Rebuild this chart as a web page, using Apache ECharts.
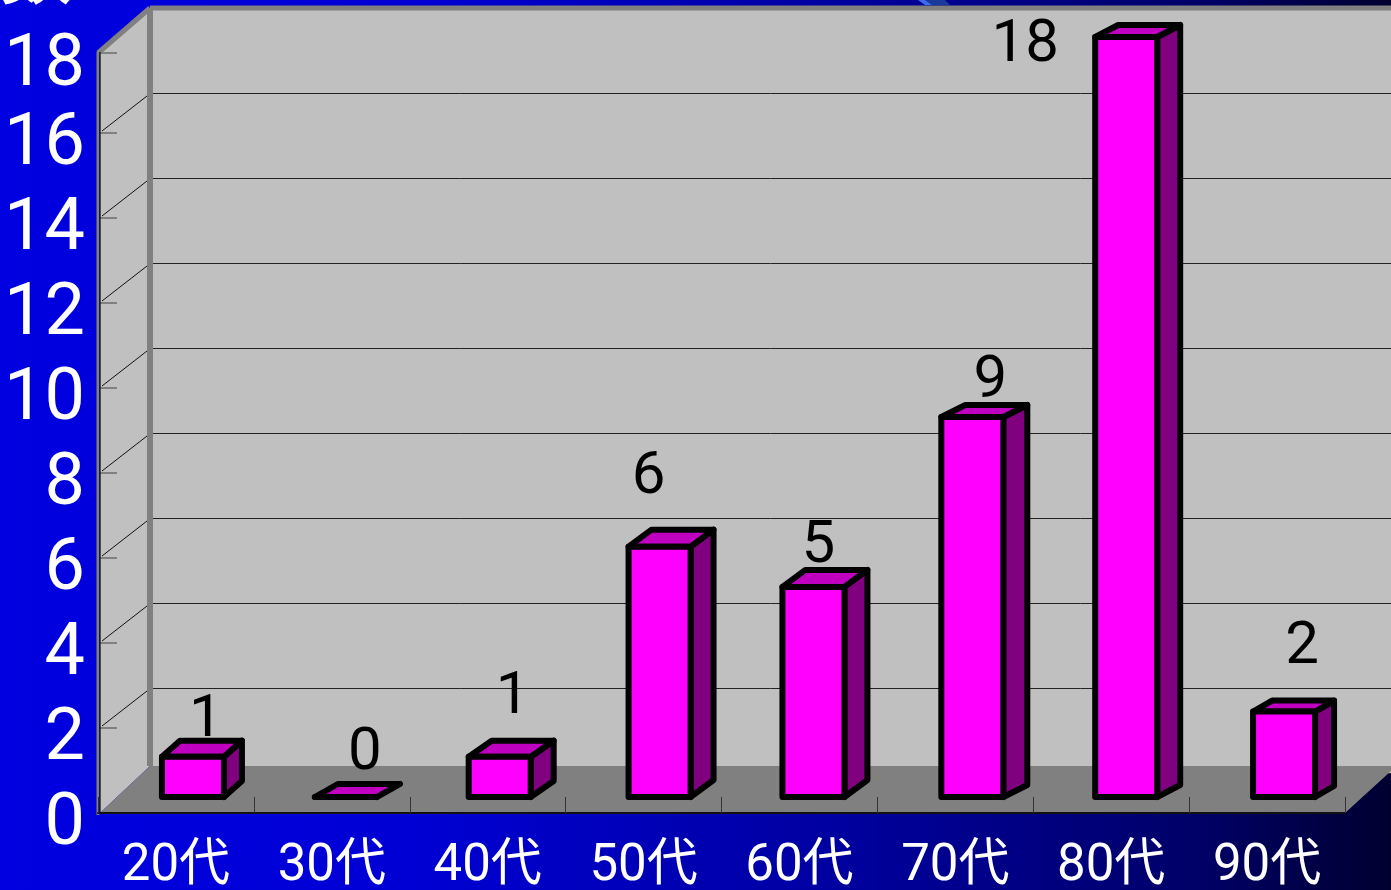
<!DOCTYPE html>
<html>
<head>
<meta charset="utf-8">
<style>html,body{margin:0;padding:0;background:#000080}#c{width:1391px;height:890px}</style>
<script src="https://cdn.jsdelivr.net/npm/echarts@6/dist/echarts.min.js"></script>
</head>
<body>
<div id="c"></div>
<script>
const categories = ['20代','30代','40代','50代','60代','70代','80代','90代'];
const values = [1,0,1,6,5,9,18,2];
const axisTicks = [0,2,4,6,8,10,12,14,16,18];
const axisName = '数';

// layout of the hand-placed 3D look
const barNudge = [17,14,12,16,14,17,15,17];
const barNudgeY = [2,0,2,3,1,0,0,-1];
const depthX = [18,23,23,23,23,24,23,19];
const depthY = [16,13,16,17,17,12,12,11];
const labelNudge = [[13,-36],[19,-43],[13,-59],[-11,-69],[5,-40],[18,-35],[-101,9],[18,-64]];
const HALF = 31;
const SANS = 'Roboto,"Liberation Sans","Noto Sans CJK JP",sans-serif';
const GRAY = '#808080';

const chart = echarts.init(document.getElementById('c'), null, {renderer:'canvas', width:1391, height:890});

function renderShell(params, api){
  const cs = params.coordSys;
  const L = cs.x + 2, T = cs.y, R = cs.x + cs.width, B = cs.y + cs.height;
  const BX = L + 50, wallTop = T + 4, backTop = T - 40, floorY = B - 47;
  const kids = [];
  kids.push({type:'polygon', shape:{points:[[L,wallTop],[BX,backTop],[BX,floorY],[L,B]]}, style:{fill:'#c0c0c0'}});
  kids.push({type:'polygon', shape:{points:[[L,B],[BX,floorY],[1391,floorY],[1391,floorY+5],[R,B]]}, style:{fill:GRAY}});
  axisTicks.forEach(v=>{
    const y = Math.max(api.coord([0,v])[1], wallTop+1);
    kids.push({type:'line', shape:{x1:L,y1:y,x2:L+17,y2:y}, style:{stroke:'#404040',lineWidth:1}});
    if(v>0 && v<18) kids.push({type:'line', shape:{x1:L+2,y1:y-2,x2:BX-3,y2:y-37}, style:{stroke:'#111',lineWidth:1}});
  });
  kids.push({type:'line', shape:{x1:BX,y1:backTop,x2:1391,y2:backTop}, style:{stroke:GRAY,lineWidth:5}});
  kids.push({type:'line', shape:{x1:BX,y1:backTop,x2:BX,y2:floorY}, style:{stroke:GRAY,lineWidth:6}});
  kids.push({type:'line', shape:{x1:L-2,y1:wallTop+1,x2:BX,y2:backTop}, style:{stroke:GRAY,lineWidth:5}});
  kids.push({type:'line', shape:{x1:L-2,y1:wallTop,x2:L-2,y2:B+2}, style:{stroke:GRAY,lineWidth:3}});
  kids.push({type:'line', shape:{x1:L,y1:wallTop,x2:L,y2:B}, style:{stroke:'#000',lineWidth:1.2}});
  return {type:'group', children:kids};
}

function renderBar(params, api){
  const i = api.value(0), v = api.value(1);
  const c = api.coord([i,v]), b = api.coord([i,0]);
  const cx = c[0] + barNudge[i], l = cx-HALF, r = cx+HALF, t = c[1] + barNudgeY[i], bot = b[1];
  const dx = depthX[i], dy = depthY[i];
  const stroke = {stroke:'#000', lineWidth:6, lineJoin:'round'};
  return {type:'group', children:[
    {type:'text', style:{text:String(v), x:cx+labelNudge[i][0], y:t+labelNudge[i][1], align:'center', verticalAlign:'middle',
      fill:'#000', font:'60px '+SANS}},
    {type:'polygon', shape:{points:[[r,t],[r+dx,t-dy],[r+dx,bot-dy],[r,bot]]}, style:Object.assign({fill:'#800080'},stroke)},
    {type:'polygon', shape:{points:[[l,t],[l+dx,t-dy],[r+dx,t-dy],[r,t]]}, style:Object.assign({fill:'#c000c0'},stroke)},
    {type:'polygon', shape:{points:[[l,t],[r,t],[r,bot],[l,bot]]}, style:Object.assign({fill:'#ff00ff'},stroke)}
  ]};
}

const hiddenAxis = {show:false};
chart.setOption({
  animation:false,
  backgroundColor:{type:'linear',x:0,y:0,x2:1,y2:0,colorStops:[
    {offset:0,color:'#0000e0'},{offset:0.3,color:'#0000d4'},{offset:0.6,color:'#0000a0'},{offset:0.86,color:'#000068'},{offset:1,color:'#000030'}]},
  graphic:[
    {type:'polygon', silent:true, shape:{points:[[925,0],[945,0],[950,5],[932,5]]}, style:{fill:'#1a3a9a'}},
    {type:'polygon', silent:true, shape:{points:[[918,0],[925,0],[932,5],[925,5]]}, style:{fill:'#3a6cf0'}},
    {type:'text', silent:true, style:{text:axisName, x:36, y:7, align:'center', verticalAlign:'bottom', fill:'#fff', font:'72px "Noto Sans CJK JP"'}}
  ],
  grid:[
    {left:150, right:0, top:8, height:765, show:true, backgroundColor:'#c0c0c0', borderWidth:0, outerBoundsMode:'none', containLabel:false},
    {left:98, right:46, top:48, height:765, outerBoundsMode:'none', containLabel:false},
    {left:98, right:46, top:37, height:760, outerBoundsMode:'none', containLabel:false}
  ],
  xAxis:[
    Object.assign({gridIndex:0,type:'category',data:categories},hiddenAxis),
    {gridIndex:1,type:'category',data:categories,z:10,
      axisLine:{show:true,lineStyle:{color:'#111',width:2}},
      axisTick:{show:true,inside:true,length:16,lineStyle:{color:'#333',width:1}},
      axisLabel:{interval:0,color:'#fff',fontFamily:SANS,fontSize:51,margin:29}},
    Object.assign({gridIndex:2,type:'category',data:categories},hiddenAxis)
  ],
  yAxis:[
    {gridIndex:0,type:'value',min:0,max:18,interval:2,axisLine:{show:false},axisTick:{show:false},axisLabel:{show:false},
      splitLine:{show:true,lineStyle:{color:'#222',width:1}}},
    {gridIndex:1,type:'value',min:0,max:18,interval:2,z:10,
      axisLine:{show:false},axisTick:{show:false},splitLine:{show:false},
      axisLabel:{color:'#fff',margin:13,showMaxLabel:true,showMinLabel:true,hideOverlap:false,
        formatter:v=>v===18?'{b|'+v+'}':'{a|'+v+'}',
        rich:{a:{fontFamily:SANS,fontSize:72,color:'#fff',padding:[25,0,0,0]},
              b:{fontFamily:SANS,fontSize:72,color:'#fff',padding:[37,0,0,0]}}}},
    Object.assign({gridIndex:2,type:'value',min:0,max:18},hiddenAxis)
  ],
  series:[
    {type:'custom',xAxisIndex:1,yAxisIndex:1,silent:true,z:1,clip:false,renderItem:renderShell,data:[[0,0]],encode:{x:0,y:1}},
    {type:'custom',xAxisIndex:2,yAxisIndex:2,silent:true,z:3,clip:false,renderItem:renderBar,
      data:values.map((v,i)=>[i,v]),encode:{x:0,y:1}}
  ]
});
</script>
</body>
</html>
